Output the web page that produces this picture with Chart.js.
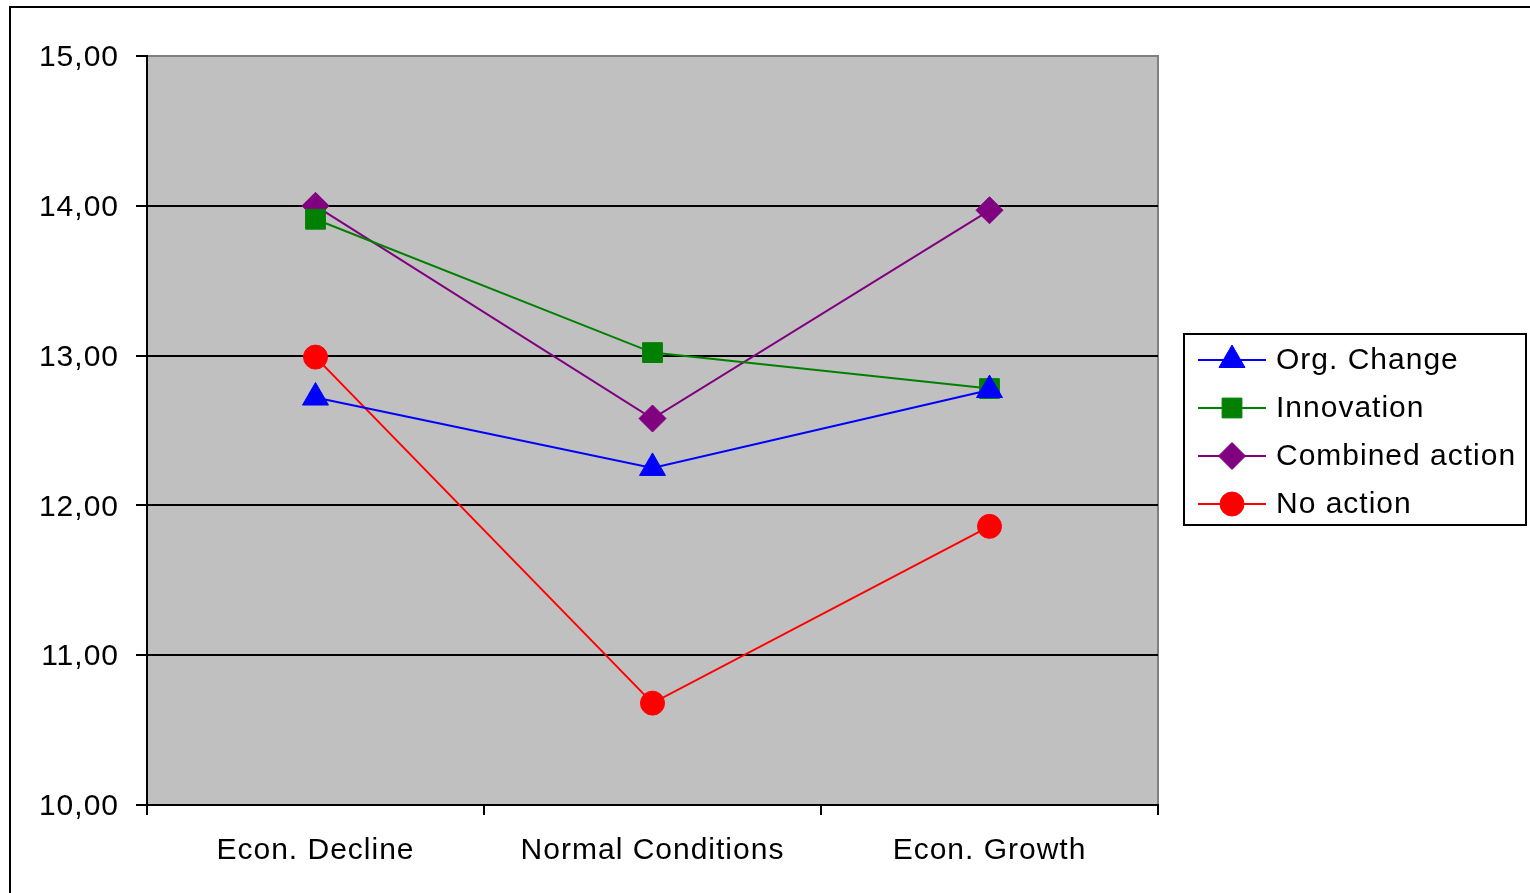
<!DOCTYPE html>
<html>
<head>
    <title>Scenario Chart</title>
    <script src="https://cdn.jsdelivr.net/npm/chart.js"></script>
    <style>
        body { margin: 0; background: #fff; overflow: hidden; }
        #wrap { position: relative; width: 1530px; height: 893px; }
        #frame { position: absolute; left: 9px; top: 6px; width: 1600px; height: 1000px; border: 2px solid #000; }
        canvas { position: absolute; left: 0; top: 0; }
    </style>
</head>
<body>
    <div id="wrap">
        <div id="frame"></div>
        <canvas id="chart" width="1530" height="893"></canvas>
    </div>

    <script>
        // Chart data
        const categories = ['Econ. Decline', 'Normal Conditions', 'Econ. Growth'];
        const seriesNames = ['Org. Change', 'Innovation', 'Combined action', 'No action'];
        const orgChange = [12.72, 12.25, 12.77];
        const innovation = [13.91, 13.02, 12.78];
        const combinedAction = [14.00, 12.58, 13.97];
        const noAction = [12.99, 10.68, 11.86];

        const colors = ['#0000ff', '#008000', '#800080', '#ff0000'];
        const markers = ['triangle', 'rect', 'rectRot', 'circle'];
        const markerSizes = [15, 14, 13.5, 12];
        const fontFamily = '"Liberation Sans", Arial, sans-serif';
        const fontSize = 30;
        const spacing = '1px'; // the old chart's text is a bit wider than Arial

        const values = [orgChange, innovation, combinedAction, noAction];
        const datasets = seriesNames.map((name, i) => ({
            label: name,
            data: values[i],
            borderColor: colors[i],
            backgroundColor: colors[i],
            borderWidth: 2,
            pointStyle: markers[i],
            pointRadius: markerSizes[i],
            pointHoverRadius: markerSizes[i],
            pointBackgroundColor: colors[i],
            pointBorderColor: colors[i],
            pointBorderWidth: 1,
            tension: 0
        }));

        // gray plot background and legend box, drawn like the old spreadsheet chart
        const framePlugin = {
            id: 'framePlugin',
            beforeDraw(chart) {
                const { ctx, chartArea: a } = chart;
                ctx.letterSpacing = spacing;
                ctx.save();
                ctx.fillStyle = '#c0c0c0';
                ctx.fillRect(a.left, a.top, a.right - a.left, a.bottom - a.top);
                ctx.strokeStyle = '#808080';
                ctx.lineWidth = 2;
                ctx.beginPath();
                ctx.moveTo(a.left, a.top);
                ctx.lineTo(a.right, a.top);
                ctx.lineTo(a.right, a.bottom);
                ctx.stroke();
                ctx.restore();
            },
            afterDraw(chart) {
                const ctx = chart.ctx;
                const box = { x: 1184, y: 334, w: 342, h: 191 };
                ctx.save();
                ctx.strokeStyle = '#000';
                ctx.lineWidth = 2;
                ctx.strokeRect(box.x, box.y, box.w, box.h);
                ctx.font = fontSize + 'px ' + fontFamily;
                ctx.textBaseline = 'middle';
                ctx.textAlign = 'left';
                chart.data.datasets.forEach((ds, i) => {
                    const y = 360 + i * 48;
                    ctx.strokeStyle = ds.borderColor;
                    ctx.lineWidth = 2;
                    ctx.beginPath();
                    ctx.moveTo(1198, y);
                    ctx.lineTo(1266, y);
                    ctx.stroke();
                    ctx.fillStyle = ds.borderColor;
                    ctx.lineWidth = 1;
                    Chart.helpers.drawPoint(ctx, { pointStyle: ds.pointStyle, radius: ds.pointRadius, rotation: 0, borderWidth: 1 }, 1232, y);
                    ctx.fillStyle = '#000';
                    ctx.fillText(ds.label, 1276, y + 1);
                });
                ctx.restore();
                ctx.letterSpacing = '0px';
            }
        };

        new Chart(document.getElementById('chart'), {
            type: 'line',
            data: { labels: categories, datasets: datasets },
            options: {
                responsive: false,
                animation: false,
                layout: { padding: { top: 56, right: 372, left: 0, bottom: 0 } },
                plugins: { legend: { display: false }, tooltip: { enabled: false } },
                scales: {
                    x: {
                        offset: true,
                        afterFit: scale => { scale.height = 88; },
                        grid: { offset: true, drawOnChartArea: false, drawTicks: true, tickLength: 10, color: '#000', lineWidth: 2 },
                        border: { color: '#000', width: 2 },
                        ticks: { color: '#000', font: { family: fontFamily, size: fontSize }, padding: 18, maxRotation: 0 }
                    },
                    y: {
                        min: 10,
                        max: 15,
                        afterFit: scale => { scale.width = 147; },
                        grid: {
                            color: c => (c.tick && c.tick.value === 15 ? '#808080' : '#000'),
                            tickColor: '#000',
                            lineWidth: 2,
                            tickLength: 11
                        },
                        border: { color: '#000', width: 2 },
                        ticks: {
                            stepSize: 1,
                            color: '#000',
                            padding: 17,
                            labelOffset: 2,
                            font: { family: fontFamily, size: fontSize },
                            callback: v => v.toFixed(2).replace('.', ',')
                        }
                    }
                }
            },
            plugins: [framePlugin]
        });
    </script>
</body>
</html>
